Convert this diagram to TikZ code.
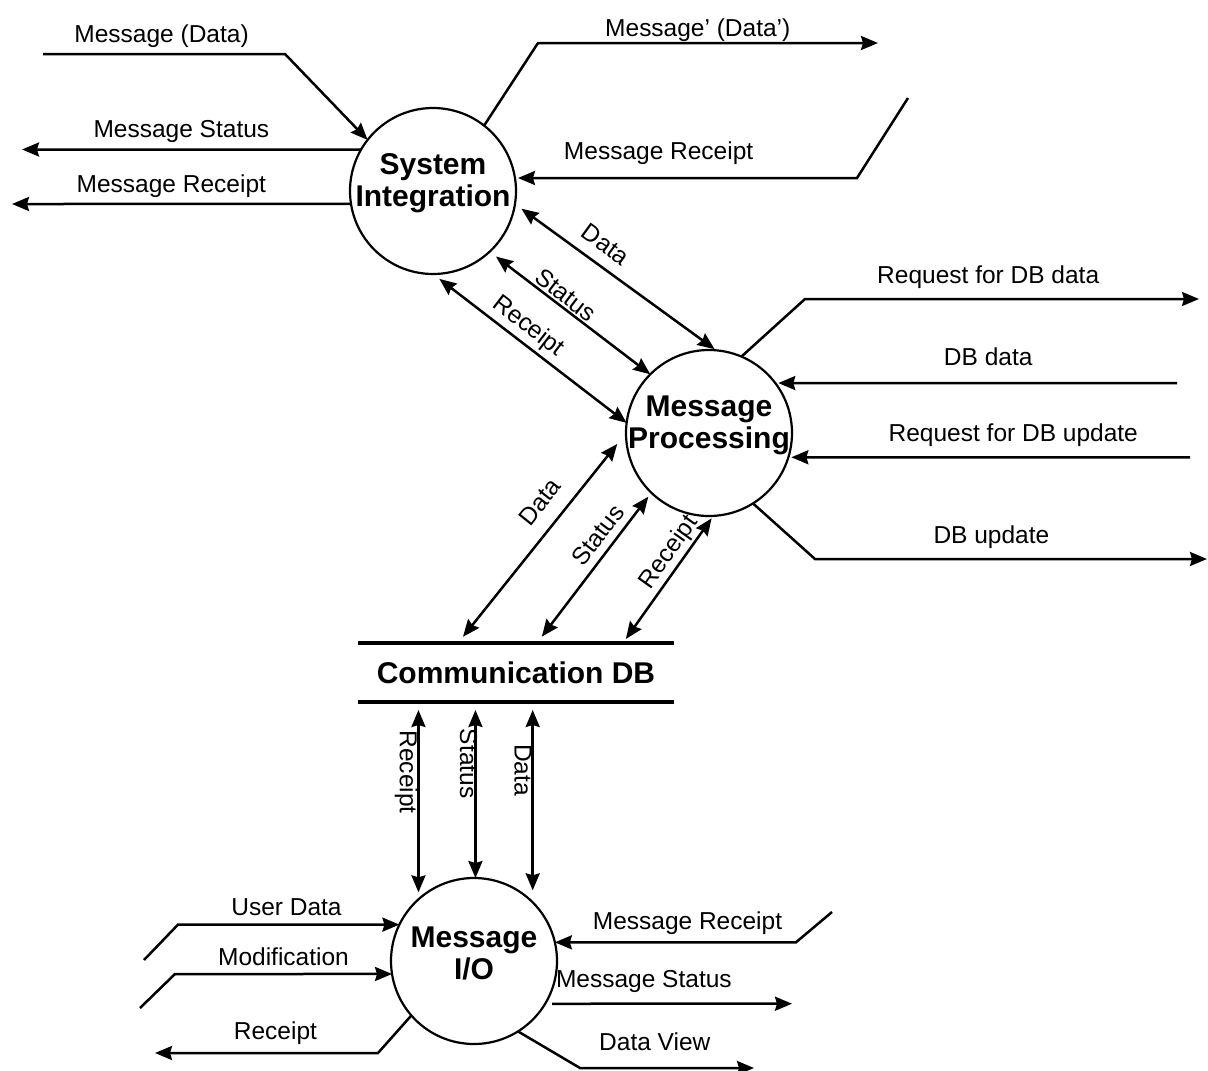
\documentclass[tikz,border=0pt]{standalone}
\usepackage{fontspec}
\setmainfont{Liberation Sans}
\usetikzlibrary{arrows.meta,shapes.geometric,positioning}
\tikzset{proc/.style={draw, circle, line width=2.2pt, minimum size=166pt, inner sep=0pt, outer sep=0pt}}
\tikzset{ptitle/.style={font=\fontsize{30}{32}\selectfont\bfseries, align=center, inner sep=0pt}}
\tikzset{store/.style={font=\fontsize{30}{32}\selectfont\bfseries, minimum width=316pt, minimum height=59pt, inner sep=0pt, outer sep=0pt}}
\tikzset{lbl/.style={font=\fontsize{24.5}{28}\selectfont, anchor=base, inner sep=0pt, yshift=#1}, lbl/.default=12pt}
\tikzset{slbl/.style={font=\fontsize{24.5}{28}\selectfont, sloped, inner sep=2pt}}
\tikzset{dflow/.style={<->}}

\begin{document}
\begin{tikzpicture}[x=1pt, y=-1pt, line width=2.5pt, >={Stealth[length=17pt,width=14pt,inset=2pt]}]
\useasboundingbox (0,0) rectangle (1208,1071);

\node[proc] (SI) at (433,191) {};
\node[ptitle] (SIt) at ([yshift=8pt]SI.center) {System\\Integration};
\node[proc] (MP) at (709,433) {};
\node[ptitle] (MPt) at ([yshift=8pt]MP.center) {Message\\Processing};
\node[proc] (IO) at (474,961) {};
\node[ptitle] (IOt) at ([yshift=8pt]IO.center) {Message\\I/O};
\node[store] (DB) at (516,672.5) {Communication DB};
\draw[line width=4.5pt] (DB.north west) -- (DB.north east) (DB.south west) -- (DB.south east);

\coordinate (mdA) at (43,54);
\coordinate (mdB) at (285,54);
\coordinate (msA) at (22,149.5);
\coordinate (mrA) at (12,204);
\coordinate (moB) at (538,43);
\coordinate (moC) at (878,43);
\coordinate (riA) at (908,98);
\coordinate (riB) at (857,178);
\coordinate (rqA) at (805,299);
\coordinate (rqB) at (1199,299);
\coordinate (dbA) at (1177,383);
\coordinate (ruA) at (1190,457.3);
\coordinate (duA) at (815,559);
\coordinate (duB) at (1207,559);
\coordinate (udA) at (144,960);
\coordinate (udB) at (178,924.6);
\coordinate (mfA) at (140,1008);
\coordinate (mfB) at (175,974);
\coordinate (rcA) at (378,1053);
\coordinate (rcB) at (155,1053);
\coordinate (irA) at (832,912);
\coordinate (irB) at (796,942.3);
\coordinate (isA) at (792,1003.7);
\coordinate (dvA) at (580,1068);
\coordinate (dvB) at (754,1068);

% System Integration
\draw[->] (mdA) -- node[lbl, pos=.49] {Message (Data)} (mdB) -- (SI.142);
\draw[->] (SI.150) -- node[lbl, pos=.53] {Message Status} (msA);
\draw[->] (SI.189) -- node[lbl=11pt, pos=.53] {Message Receipt} (mrA);
\draw[->] (SI.52) -- (moB) -- node[lbl=7pt, pos=.47] {Message’ (Data’)} (moC);
\draw[->, shorten >=3pt] (riA) -- (riB) -- node[lbl=19pt, pos=.58] {Message Receipt} (SI.9);

\draw[dflow, shorten <=8pt, shorten >=2pt] (SI.-9) -- node[slbl, above=9pt, pos=.39] {Data} (MP.85);
\draw[dflow, shorten <=8pt] (SI.-47) -- node[slbl, above=0pt, pos=.43] {Status} (MP.135);
\draw[dflow, shorten <=8pt] (SI.-90) -- node[slbl, above=1.5pt, pos=.44] {Receipt} (MP.173);

% Message Processing
\draw[->] (MP.67) -- (rqA) -- node[lbl=16pt, pos=.465] {Request for DB data} (rqB);
\draw[->, shorten >=3pt] (dbA) -- node[lbl=18pt, pos=.47] {DB data} (MP.37);
\draw[->, shorten >=3pt] (ruA) -- node[lbl=16pt, pos=.44] {Request for DB update} (MP.-17);
\draw[->] (MP.-58) -- (duA) -- node[lbl=16pt, pos=.45] {DB update} (duB);

\draw[dflow, shorten <=8pt, shorten >=14pt] ([xshift=-58pt]DB.north) -- node[slbl, above=12.5pt, pos=.6] {Data} (MP.180);
\draw[dflow, shorten <=8pt, shorten >=5pt] ([xshift=21pt]DB.north) -- node[slbl, above=5pt, pos=.65] {Status} (MP.226);
\draw[dflow, shorten <=5pt, shorten >=3pt] ([xshift=107pt]DB.north) -- node[slbl, above=0pt, pos=.645] {Receipt} (MP.273);

% Communication DB
\draw[dflow, shorten <=8pt, shorten >=7pt] (IO.132 |- DB.south) -- node[slbl, below=-2.5pt, pos=.355] {Receipt} (IO.132);
\draw[dflow, shorten <=8pt] (IO.89 |- DB.south) -- node[slbl, below=-5pt, pos=.35] {Status} (IO.89);
\draw[dflow, shorten <=8pt, shorten >=12pt] (IO.45 |- DB.south) -- node[slbl, below=-2pt, pos=.34] {Data} (IO.45);

% Message I/O
\draw[->] (udA) -- (udB) -- node[lbl=9pt, pos=.49] {User Data} (IO.154);
\draw[->] (mfA) -- (mfB) -- node[lbl=9pt, pos=.5] {Modification} (IO.189);
\draw[->] (IO.221) -- (rcA) -- node[lbl=14pt, pos=.46] {Receipt} (rcB);
\draw[->] (irA) -- (irB) -- node[lbl=13pt, pos=.45] {Message Receipt} (IO.13);
\draw[->, shorten <=7pt] (IO.-31) -- node[lbl=16pt, pos=.40] {Message Status} (isA);
\draw[->] (IO.-58) -- (dvA) -- node[lbl=18pt, pos=.43] {Data View} (dvB);
\end{tikzpicture}
\end{document}
